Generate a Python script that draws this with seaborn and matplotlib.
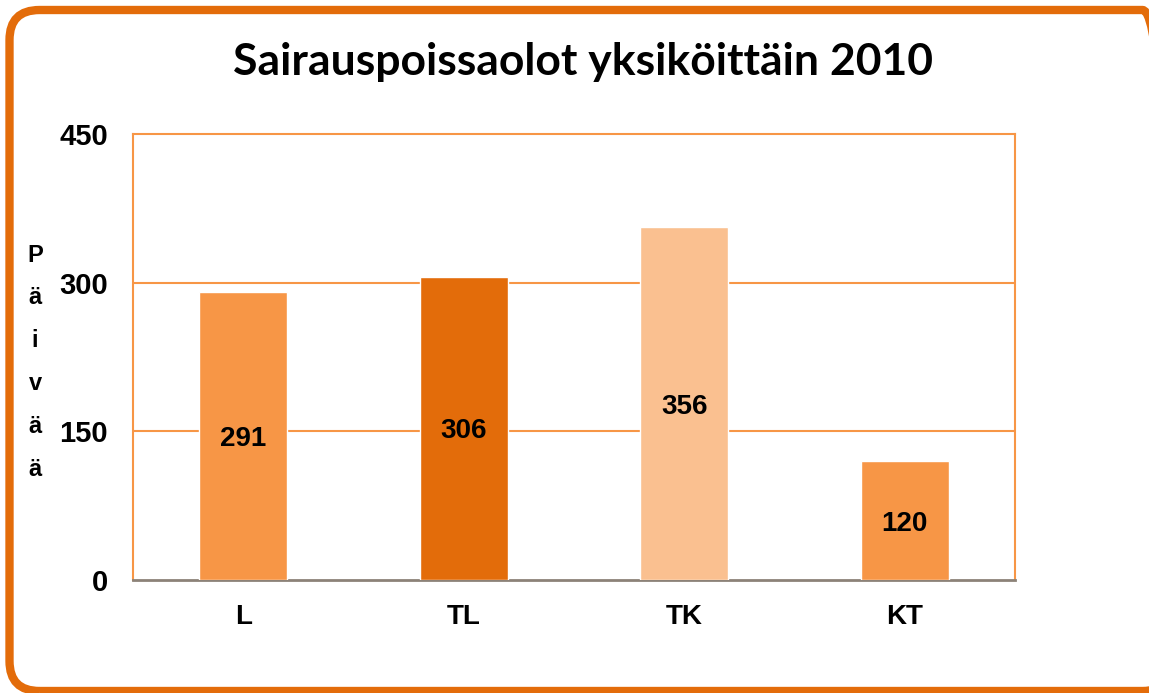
import matplotlib
matplotlib.use("Agg")
import matplotlib.pyplot as plt
import seaborn as sns
import pandas as pd
from matplotlib.patches import FancyBboxPatch

categories = ["L", "TL", "TK", "KT"]
values = [291, 306, 356, 120]
bar_colors = ["#F79646", "#E36C0A", "#FAC090", "#F79646"]
yticks = [0, 150, 300, 450]
title = "Sairauspoissaolot yksiköittäin 2010"
ylabel = "P\nä\ni\nv\nä\nä"

sns.set_theme(style="white")
plt.rcParams['font.family'] = ['Liberation Sans', 'DejaVu Sans']

df = pd.DataFrame({"cat": categories, "val": values})

fig = plt.figure(figsize=(11.49, 6.93), dpi=100)
ax = fig.add_axes([133/1149, 113/693, 882/1149, 446/693])

sns.barplot(data=df, x="cat", y="val", hue="cat", palette=bar_colors,
            order=categories, hue_order=categories, legend=False,
            width=0.4, ax=ax, saturation=1, zorder=3)

ax.set_ylim(0, 450)
ax.set_xlim(-0.5, 3.5)
ax.set_yticks(yticks)
ax.set_yticklabels([str(t) for t in yticks], fontsize=21, fontweight="bold",
                   color="black")
ax.set_xticks(range(len(categories)))
ax.set_xticklabels(categories, fontsize=20, fontweight="bold", color="black")
ax.tick_params(axis="x", length=0, pad=17)
ax.tick_params(axis="y", length=0, pad=18)
ax.set_xlabel("")
ax.set_ylabel("")

for y in [150, 300]:
    ax.axhline(y, color="#F79646", lw=1.5, zorder=1)

for s in ["left", "top", "right"]:
    ax.spines[s].set_color("#F79646")
    ax.spines[s].set_linewidth(1.5)
ax.spines["bottom"].set_color("#8C8278")
ax.spines["bottom"].set_linewidth(2)

for i, v in enumerate(values):
    ax.text(i, v / 2, str(v), ha="center", va="center_baseline", fontsize=20,
            fontweight="bold", color="black", zorder=5)

fig.text(583/1149, 1 - 62/693, title, ha="center", va="center",
         fontsize=32, fontweight="bold", color="black",
         family=["Lato", "DejaVu Sans"])
fig.text(35/1149, 1 - 362/693, ylabel, ha="center", va="center",
         fontsize=17, fontweight="bold", linespacing=2.1, color="black")

border = FancyBboxPatch((9.5, 2), 1163, 681,
                        boxstyle="round,pad=0,rounding_size=30",
                        transform=None, fill=False, edgecolor="#E36C0A",
                        linewidth=6, zorder=10)
fig.patches.append(border)

fig.savefig("out.png", dpi=100)
